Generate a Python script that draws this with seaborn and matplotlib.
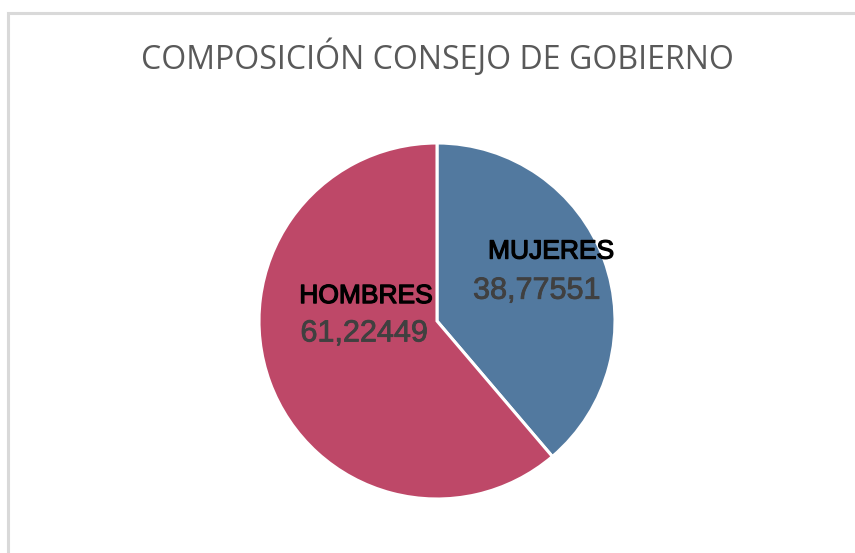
import matplotlib
matplotlib.use("Agg")
import matplotlib.pyplot as plt
import matplotlib.patches as mpatches
import matplotlib.patheffects as pe
import seaborn as sns

# data
categories = ['MUJERES', 'HOMBRES']
values = [38.77551, 61.22449]
value_labels = ['38,77551', '61,22449']
title = 'COMPOSICIÓN CONSEJO DE GOBIERNO'

sns.set_style('white')
plt.rcParams['font.family'] = ['Liberation Sans', 'DejaVu Sans']
colors = sns.color_palette(['#52799f', '#be4868'])

fig = plt.figure(figsize=(8.55, 5.53), dpi=100)
fig.patch.set_facecolor('white')

# light grey chart frame (only top/left visible, rest runs off the image)
frame = mpatches.Rectangle((8 / 855, -0.1), 1.2, (553 - 13) / 553 + 0.1,
                           transform=fig.transFigure, fill=False,
                           edgecolor='#d9d9d9', linewidth=2.2, clip_on=False)
fig.patches.append(frame)

fig.text(437 / 855, 1 - 58 / 553, title, ha='center', va='center',
         fontsize=23, color='#595959', family=['Open Sans', 'DejaVu Sans'])

ax = fig.add_axes([(437 - 178) / 855, (553 - 321 - 178) / 553, 356 / 855, 356 / 553])
wedges, _ = ax.pie(values, colors=colors, startangle=90, counterclock=False,
                   wedgeprops=dict(edgecolor='white', linewidth=2.2))
ax.set_xlim(-1, 1)
ax.set_ylim(-1, 1)
ax.set_aspect('equal')
ax.axis('off')

# label positions (relative to unit radius)
name_pos = [(0.64, 0.39), (-0.40, 0.14)]
val_pos = [(0.56, 0.17), (-0.41, -0.07)]
for cat, vl, npos, vpos in zip(categories, value_labels, name_pos, val_pos):
    ax.text(*npos, cat, ha='center', va='center', fontsize=19, color='black',
            path_effects=[pe.withStroke(linewidth=0.9, foreground='black')])
    ax.text(*vpos, vl, ha='center', va='center', fontsize=22, color='#404040',
            path_effects=[pe.withStroke(linewidth=0.6, foreground='#404040')])

fig.savefig('out.png', dpi=100, facecolor='white')
